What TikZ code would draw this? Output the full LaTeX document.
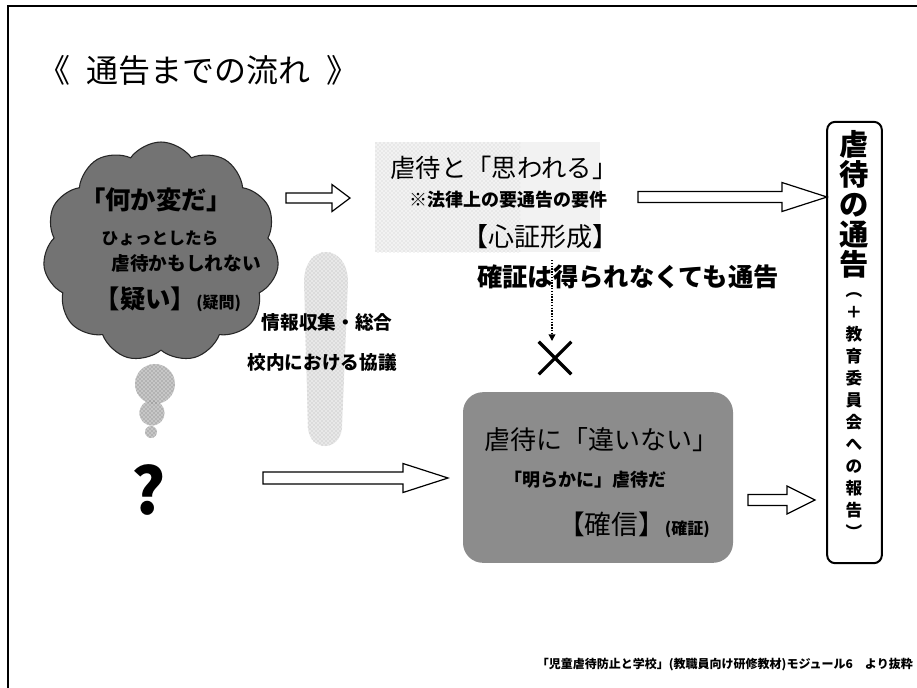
\documentclass[tikz,border=0pt]{standalone}
\usepackage{fontspec}
\newfontfamily\jp{Noto Sans CJK JP}
\usetikzlibrary{shapes.symbols,shapes.misc,calc,arrows.meta,patterns}
\newcommand\blkarrow[5]{\draw[blk] ($(#1)+(0,-#3)$) -- ($(#2)+(-#5,-#3)$) -- ($(#2)+(-#5,-#4)$) -- (#2) -- ($(#2)+(-#5,#4)$) -- ($(#2)+(-#5,#3)$) -- ($(#1)+(0,#3)$) -- cycle;}
\newcommand\fs[1]{\fontsize{#1}{#1}\selectfont}
\begin{document}
\begin{tikzpicture}[x=0.75pt,y=-0.75pt,
  every node/.style={font=\jp, inner sep=0pt},
  blk/.style={draw=black, line width=0.9pt, fill=white},
  reg/.style={font=\jp\fs{#1}},
  bld/.style={font=\jp\bfseries\fs{#1}},
  stip/.style={fill=black!#1},
  ]
\useasboundingbox (0,0) rectangle (917,687);
\fill[white] (0,0) rectangle (917,687);
% frame
\draw[line width=2.2pt] (8,700) -- (8,6) -- (930,6);
% title
\node[anchor=west, reg=24] (title) at (38,70) {《\hspace{0.5em}通告までの流れ\hspace{0.5em}》};
% cloud
\node[cloud, cloud puffs=11, cloud puff arc=110, cloud ignores aspect,
      draw=black!85, line width=0.8pt, fill=black!55,
      minimum width=177pt, minimum height=165pt] (cloud) at (161,252) {};
\node[bld=19] (c1) at (156,200) {「何か変だ」};
\node[bld=12.5] (c2) at (160,238) {ひょっとしたら};
\node[bld=14] (c3) at (186,263) {虐待かもしれない};
\node[font=\jp\bfseries] (c4) at (168,299) {{\fs{19}【疑い】}{\fs{12}(疑問)}};
% thought bubbles
\node[circle, stip=22, minimum size=30pt] (tb1) at (155,384) {};
\node[circle, stip=22, minimum size=19pt] (tb2) at (152,413) {};
\node[circle, stip=22, minimum size=9pt] (tb3) at (151,432) {};
\foreach \n/\r in {tb1/20,tb2/12.7,tb3/6}{\path[pattern=crosshatch dots, pattern color=black!55] (\n.center) circle[radius=\r];}
% bullet
\path[fill=black!9] (304,282) .. controls (304,242) and (348,242) .. (348,282)
  -- (342,428) .. controls (340,452) and (310,452) .. (308,428) -- cycle;
\path[pattern=crosshatch dots, pattern color=black!30] (304,282) .. controls (304,242) and (348,242) .. (348,282)
  -- (342,428) .. controls (340,452) and (310,452) .. (308,428) -- cycle;
\node[bld=14] (i1) at (327,322) {情報収集・総合};
\node[bld=14] (i2) at (322,362) {校内における協議};
% question mark
\node[font=\jp\bfseries\fs{48}] (q) at (149,490) {?};
% top middle
\fill[black!5] (375,142) rectangle (600,252);
\path[pattern=crosshatch dots, pattern color=black!22] (375,142) rectangle (520,252);
\node[reg=19] (t1) at (504,168) {虐待と「思われる」};
\node[bld=13.5] (t2) at (508,200) {※法律上の要通告の要件};
\node[reg=19.5] (t3) at (540,237) {【心証形成】};
\node[bld=19] (t4) at (628,277) {確証は得られなくても通告};
% cross
\node[cross out, draw, minimum size=22pt, line width=2.4pt] (cross) at (555,358) {};
\coordinate (d0) at (552,260);
\coordinate (d1) at (552,341);
\draw[densely dotted, line width=1.1pt, -{Triangle[length=5pt,width=5pt]}] (d0) -- (d1);
% bottom box
\node[rounded corners=15pt, fill=black!45, minimum width=202.5pt, minimum height=128pt] (gbox) at (598,477.5) {};
\node[reg=19.5] (g1) at (601,440) {虐待に「違いない」};
\node[bld=13.5] (g2) at (585,480) {「明らかに」虐待だ};
\node (g3) at (634,525) {{\fs{20}【確信】}{\bfseries\fs{12}(確証)}};
% right box
\node[draw, line width=1.5pt, rounded corners=6pt, minimum width=41pt, minimum height=331pt] (rbox) at (854.5,342.5) {};
\node[anchor=north, align=center, font=\jp\bfseries\fontsize{22}{22.5}\selectfont] (v1) at (854,130) {虐\\待\\の\\通\\告};
\node[anchor=north, align=center, font=\jp\bfseries\fontsize{12.5}{16.5}\selectfont] (v2) at ($(v1.south)+(0,14)$) {︵\\＋\\教\\育\\委\\員\\会\\へ\\の\\報\\告\\︶};
% arrows
\coordinate (a1s) at (286,198); \coordinate (a1e) at (350,198);
\coordinate (a2s) at (638,197); \coordinate (a2e) at (827,197);
\coordinate (a3s) at (263,478); \coordinate (a3e) at (448,478);
\coordinate (a4s) at (748,500); \coordinate (a4e) at (815,500);
\blkarrow{a1s}{a1e}{5}{13.5}{18}
\blkarrow{a2s}{a2e}{5.5}{14.5}{45}
\blkarrow{a3s}{a3e}{6}{14.5}{45}
\blkarrow{a4s}{a4e}{5.5}{14}{28}
% footer
\node[anchor=east, bld=9] (foot) at (913,665) {「児童虐待防止と学校」(教職員向け研修教材)モジュール6　より抜粋};
\end{tikzpicture}
\end{document}
